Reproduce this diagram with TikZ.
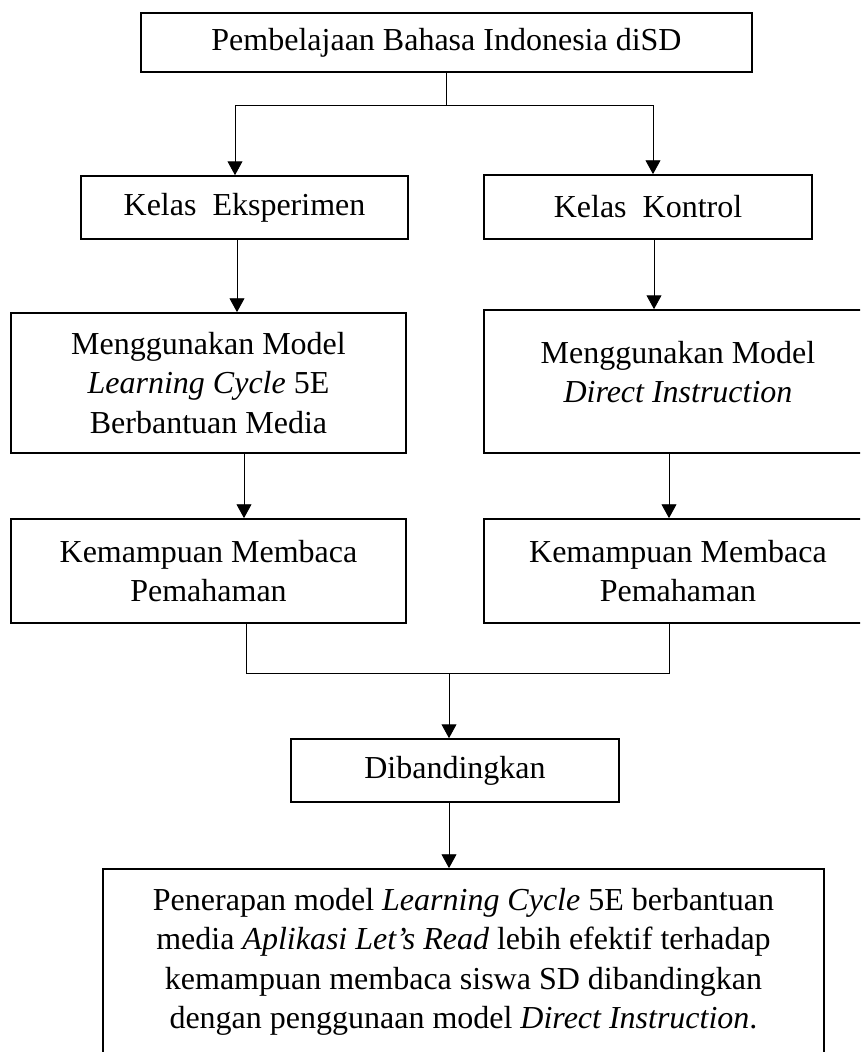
\documentclass[tikz,border=0pt]{standalone}
\usepackage{fontspec}
\setmainfont{Liberation Serif}
\usetikzlibrary{positioning,calc,arrows.meta}

\begin{document}
\begin{tikzpicture}[x=0.375pt, y=-0.375pt,
    font=\fontsize{12}{14.8}\selectfont,
    box/.style={draw, line width=0.65pt, inner sep=0pt, align=center},
    arr/.style={line width=0.35pt, -{Triangle[length=5.2pt, width=5.6pt]}},
    link/.style={line width=0.35pt}]
    \useasboundingbox (0,0) rectangle (860,1052);
    \clip (0,0) rectangle (860,1052);
    \node[box, minimum width=229.1pt, minimum height=22.1pt] (top) at (446.5,42.5) {Pembelajaan Bahasa Indonesia diSD};
    \node[box, minimum width=122.6pt, minimum height=23.6pt] (eks) at (244.5,207.5) {Kelas\ \ Eksperimen};
    \node[box, minimum width=123pt, minimum height=24pt] (kon) at (648,207) {Kelas\ \ Kontrol};
    \node[box, minimum width=148.1pt, minimum height=52.5pt] (mle) at (208.5,383) {Menggunakan Model\\ \textit{Learning Cycle} 5E\\ Berbantuan Media};
    \node[box, minimum width=145.5pt, minimum height=53.6pt] (mdi) at (678,381.5) {};
    \node[align=center, inner sep=0pt] (mditext) at (678,372) {Menggunakan Model\\ \textit{Direct Instruction}};
    \node[box, minimum width=148.1pt, minimum height=39pt] (kml) at (208.5,571) {Kemampuan Membaca\\ Pemahaman};
    \node[box, minimum width=145.5pt, minimum height=39pt] (kmr) at (678,571) {Kemampuan Membaca\\ Pemahaman};
    \node[box, minimum width=123pt, minimum height=23.6pt] (dib) at (455,770.5) {Dibandingkan};
    \node[box, minimum width=270.4pt, minimum height=69.75pt] (res) at (463.5,962) {Penerapan model \textit{Learning Cycle} 5E berbantuan\\ media \textit{Aplikasi Let’s Read} lebih efektif terhadap\\ kemampuan membaca siswa SD dibandingkan\\ dengan penggunaan model \textit{Direct Instruction}.};

    \coordinate (jl) at (235,105);
    \coordinate (jr) at (653,105);
    \coordinate (e1) at ($(eks.south)+(-7.5,0)$);
    \coordinate (k1) at ($(kon.south)+(6,0)$);
    \coordinate (e2) at ($(mle.south)+(35.5,0)$);
    \coordinate (k2) at ($(mdi.south)+(-9,0)$);
    \coordinate (kl) at ($(kml.south)+(37.5,0)$);
    \coordinate (kr) at ($(kmr.south)+(-9,0)$);
    \coordinate (mg) at (449,673);

    \draw[link] (top.south) -- (top.south |- jl);
    \draw[link] (jl) -- (jr);
    \draw[arr] (jl) -- (jl |- eks.north);
    \draw[arr] (jr) -- (jr |- kon.north);
    \draw[arr] (e1) -- (e1 |- mle.north);
    \draw[arr] (k1) -- (k1 |- mdi.north);
    \draw[arr] (e2) -- (e2 |- kml.north);
    \draw[arr] (k2) -- (k2 |- kmr.north);
    \draw[link] (kl) |- (mg) -| (kr);
    \draw[arr] (mg) -- (mg |- dib.north);
    \draw[arr] (dib.south -| mg) -- (mg |- res.north);
\end{tikzpicture}
\end{document}
